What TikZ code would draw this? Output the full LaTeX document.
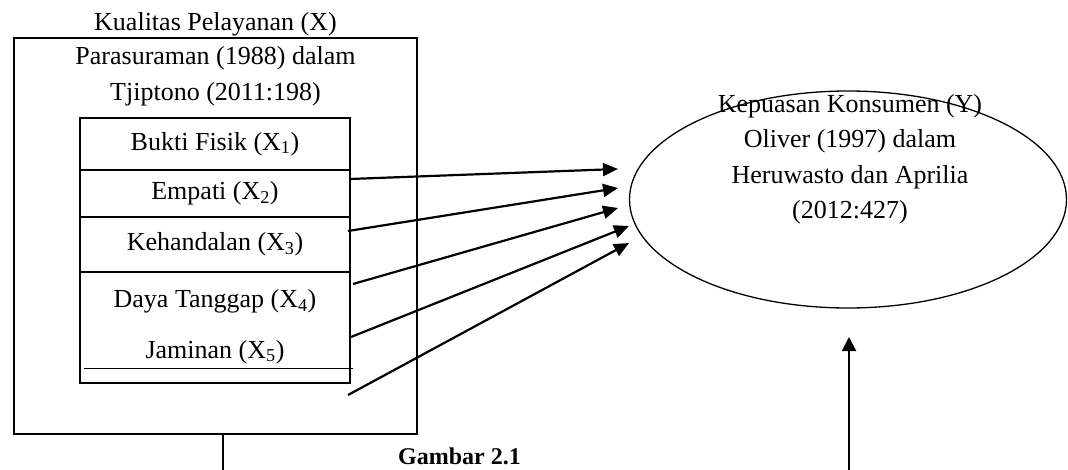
\documentclass[tikz,border=0pt]{standalone}
\usepackage{fontspec}
\setmainfont{Liberation Serif}
\usetikzlibrary{shapes.geometric,arrows.meta}
\begin{document}
\begin{tikzpicture}[x=1pt,y=-1pt,
  every node/.style={font=\fontsize{26}{36.5}\selectfont},
  box/.style={draw,line width=1.5pt,inner sep=0pt},
  row/.style={box,minimum width=270pt},
  arr/.style={line width=2.2pt,-{Triangle[length=15pt,width=13pt]}},
  plain/.style={line width=1.5pt}]
\useasboundingbox (0,0) rectangle (1068,470);
% outer box
\node[box,minimum width=403pt,minimum height=396pt] (outer) at (215.5,236) {};
\node[anchor=base] (xlab) at (215.5,30.5) {Kualitas Pelayanan (X)};
\node[anchor=north,align=center,inner sep=0pt] (ref) at (215.5,46) {Parasuraman (1988) dalam\\Tjiptono (2011:198)};
% inner rows
\node[row,minimum height=52pt] (r1) at (215,144) {Bukti Fisik (X\textsubscript{1})};
\node[row,minimum height=47pt] (r2) at (215,193.5) {Empati (X\textsubscript{2})};
\node[row,minimum height=55pt] (r3) at (215,244.5) {Kehandalan (X\textsubscript{3})};
\node[row,minimum height=111pt] (r4) at (215,327.5) {};
\node[anchor=base] (x4) at (215,308) {Daya Tanggap (X\textsubscript{4})};
\node[anchor=base] (x5) at (215,358) {Jaminan (X\textsubscript{5})};
\coordinate (j1) at (84,368);
\coordinate (j2) at (353,368);
\draw[line width=1pt] (j1) -- (j2);
% ellipse
\node[draw,ellipse,line width=1.3pt,minimum width=437pt,minimum height=217pt,inner sep=0pt] (y) at (848,199.5) {};
\node[anchor=north,align=center,inner sep=0pt,font=\fontsize{26}{35.5}\selectfont] (ytext) at (850,94) {Kepuasan Konsumen (Y)\\Oliver (1997) dalam\\Heruwasto dan Aprilia\\(2012:427)};
% arrows
\coordinate (s1) at (350,179); \coordinate (e1) at (618,169);
\coordinate (s2) at (348,231); \coordinate (e2) at (618,188);
\coordinate (s3) at (353,284); \coordinate (e3) at (618,208);
\coordinate (s4) at (351,337); \coordinate (e4) at (629,226);
\coordinate (s5) at (348,395); \coordinate (e5) at (629,243);
\draw[arr] (s1) -- (e1);
\draw[arr] (s2) -- (e2);
\draw[arr] (s3) -- (e3);
\draw[arr] (s4) -- (e4);
\draw[arr] (s5) -- (e5);
% bottom lines
\coordinate (l1) at (223,434); \coordinate (l2) at (223,472);
\draw[plain] (l1) -- (l2);
\coordinate (v1) at (849,472); \coordinate (v2) at (849,337);
\draw[line width=2pt,-{Triangle[length=14pt,width=14pt]}] (v1) -- (v2);
\node[anchor=base west,inner sep=0pt,font=\fontsize{24}{30}\bfseries] (cap) at (398,464) {Gambar 2.1};
\end{tikzpicture}
\end{document}
